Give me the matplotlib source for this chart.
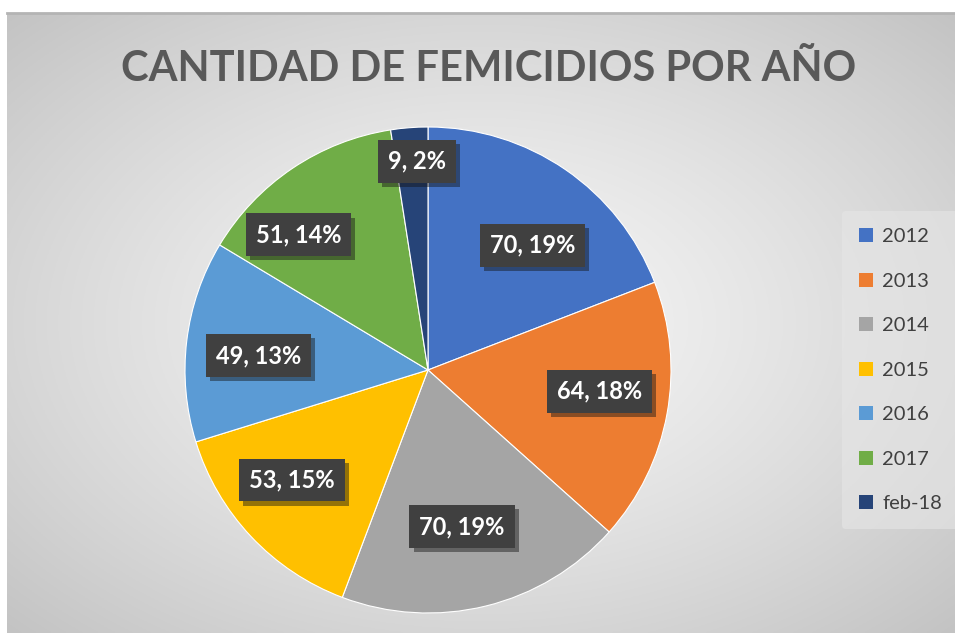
import numpy as np
import matplotlib
matplotlib.use("Agg")
import matplotlib.pyplot as plt
import matplotlib.patheffects as pe
from matplotlib.patches import Patch

years = ["2012", "2013", "2014", "2015", "2016", "2017", "feb-18"]
counts = [70, 64, 70, 53, 49, 51, 9]
pct_labels = [19, 18, 19, 15, 13, 14, 2]  # as printed in the Excel labels
colors = ["#4472C4", "#ED7D31", "#A5A5A5", "#FFC000", "#5B9BD5", "#70AD47", "#264478"]
# best-fit label placement (fraction of radius, angle nudge in degrees)
label_dist = [0.67, 0.71, 0.66, 0.72, 0.70, 0.77, 0.86]
label_nudge = [-5.5, 3.3, -1.5, -4.3, 2.0, 9.8, -1.4]

W, H = 955, 633
fig = plt.figure(figsize=(W / 100, H / 100), dpi=100)
fig.patch.set_facecolor("white")

# radial gradient background like the Excel chart area
bg = fig.add_axes([7 / W, 0, 948 / W, (H - 13) / H])
yy, xx = np.mgrid[-1:1:300j, -1:1:450j]
r = np.sqrt(xx ** 2 + yy ** 2) / np.sqrt(2)
shade = 0.965 - 0.20 * r ** 1.3
bg.imshow(np.dstack([shade] * 3), aspect="auto", extent=[0, 1, 0, 1])
bg.set_axis_off()
bg.plot([0, 1], [1, 1], color="#b4b4b4", lw=2, transform=bg.transAxes, clip_on=False)

fig.text(489 / W, 1 - 69 / H, "CANTIDAD DE FEMICIDIOS POR AÑO", ha="center", va="center",
         fontsize=30, fontweight="bold", color="#595959", family="Lato")

cx, cy, rad = 428, 370, 243
ax = fig.add_axes([(cx - rad) / W, (H - cy - rad) / H, 2 * rad / W, 2 * rad / H])
wedges, _ = ax.pie(counts, colors=colors, startangle=90, counterclock=False,
                   wedgeprops=dict(edgecolor="white", linewidth=0.8))
ax.set_xlim(-1, 1)
ax.set_ylim(-1, 1)
ax.set_aspect("equal")
ax.set_axis_off()

for w, n, p, d, nd in zip(wedges, counts, pct_labels, label_dist, label_nudge):
    ang = np.deg2rad((w.theta1 + w.theta2) / 2 + nd)
    t = ax.text(d * np.cos(ang), d * np.sin(ang), f"{n}, {p}%", ha="center", va="center",
                fontsize=17, fontweight="bold", color="white", family="Lato",
                bbox=dict(boxstyle="square,pad=0.42", facecolor="#404040", edgecolor="none"))
    t.get_bbox_patch().set_path_effects([pe.SimplePatchShadow(offset=(3, -3), alpha=0.45),
                                         pe.Normal()])

handles = [Patch(facecolor=c, edgecolor="none") for c in colors]
leg = fig.legend(handles, years, loc="upper left", bbox_to_anchor=(842 / W, 1 - 211 / H),
                 fontsize=14.5, frameon=True, handlelength=0.7, handleheight=0.7,
                 handletextpad=0.45, labelspacing=1.36, borderpad=0.85, borderaxespad=0)
leg.get_frame().set_facecolor("#e6e6e6")
leg.get_frame().set_edgecolor("none")
leg.get_frame().set_alpha(0.6)
for txt in leg.get_texts():
    txt.set_color("#404040")
    txt.set_family("Lato")

fig.savefig("out.png", dpi=100)
